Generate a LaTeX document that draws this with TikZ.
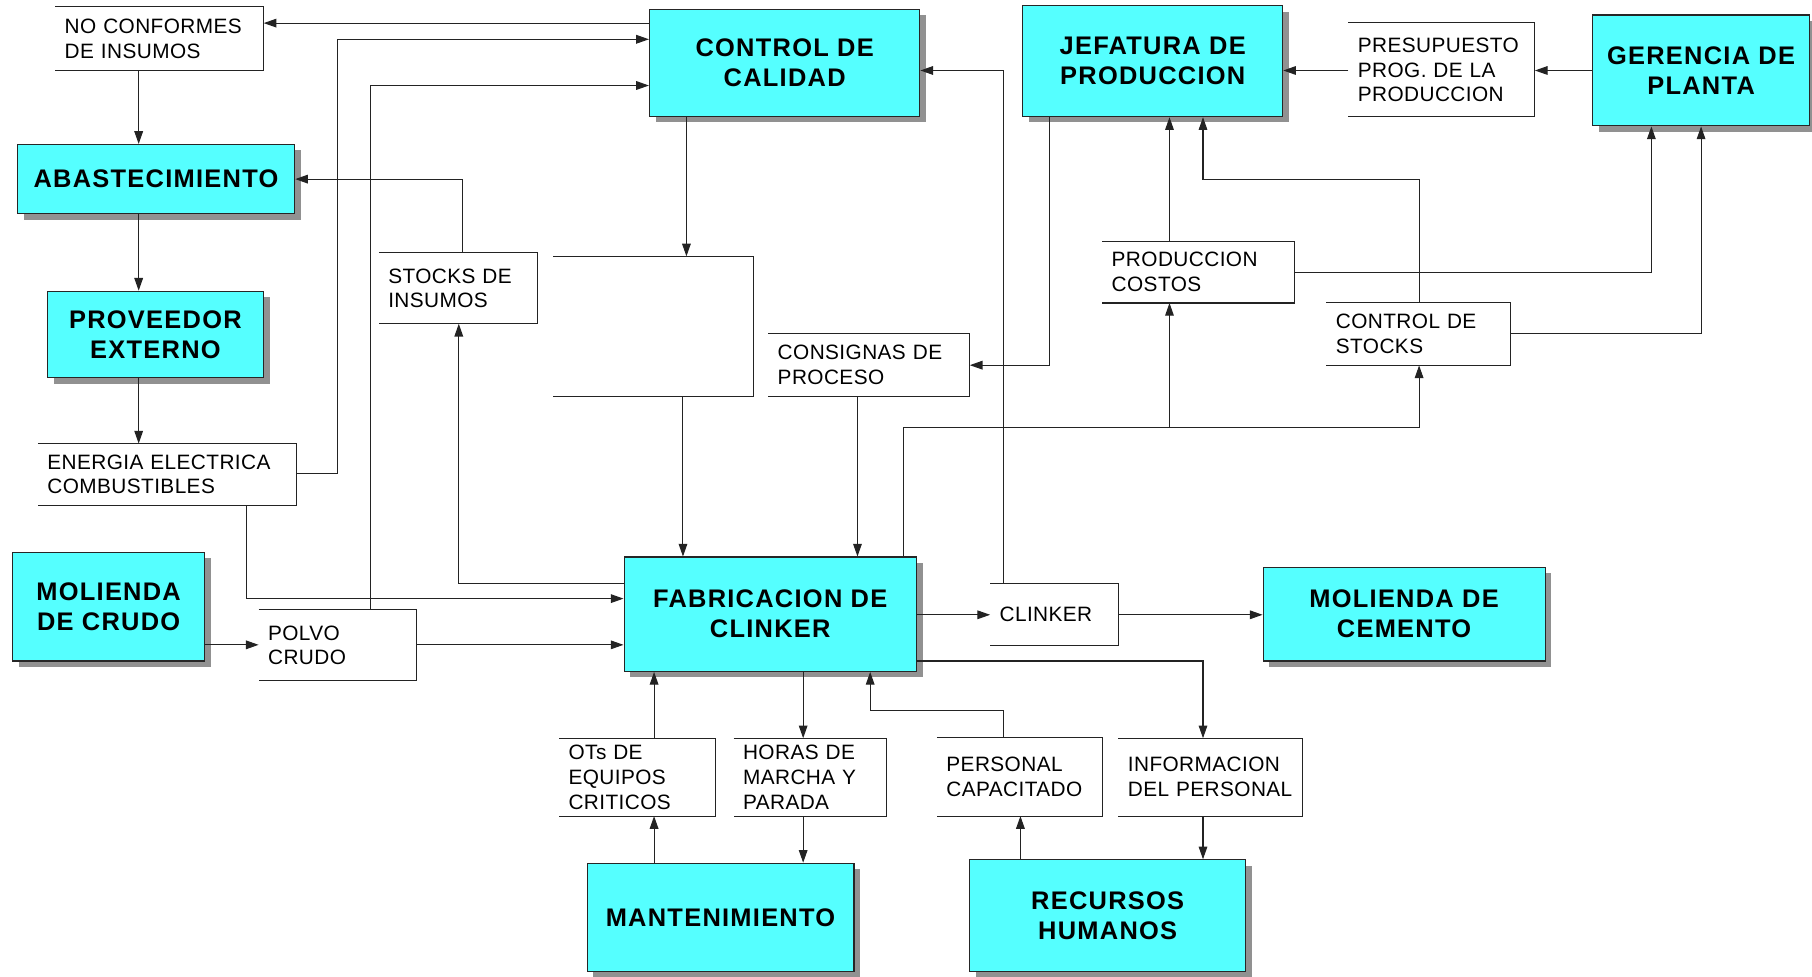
\documentclass[tikz,border=0pt]{standalone}
\usepackage{fontspec}
\setmainfont{Liberation Sans}
\newfontfamily\labfam{Liberation Sans}[LetterSpace=5]
\newfontfamily\txtfam{Liberation Sans}[LetterSpace=2]
\usetikzlibrary{arrows.meta,shadows}
\definecolor{aqua}{RGB}{85,255,255}
\definecolor{shadowgray}{RGB}{145,145,145}
\definecolor{inkline}{RGB}{35,35,35}
\newcommand{\boldlab}{\labfam\bfseries\fontsize{22}{26}\selectfont}
\newcommand{\plainlab}{\txtfam\fontsize{18}{21.5}\selectfont}
% \placebox{style}{x1}{y1}{x2}{y2}{name}{text}: box given by its corners
\newcommand{\placebox}[7]{%
  \pgfmathsetmacro{\qbw}{#4-#2}%
  \pgfmathsetmacro{\qbh}{#5-#3}%
  \pgfmathsetmacro{\qcx}{(#2+#4)/2}%
  \pgfmathsetmacro{\qcy}{(#3+#5)/2}%
  \pgfmathsetmacro{\qtw}{#4-#2-16}%
  \node[#1, minimum width=\qbw pt, minimum height=\qbh pt] (#6) at (\qcx,\qcy) {#7};}
\tikzset{
  unitbox/.style={draw=black!85, line width=0.9pt, fill=aqua, inner sep=2pt,
    align=center, font=\boldlab,
    drop shadow={shadow xshift=5.5pt, shadow yshift=-5pt, fill=shadowgray, draw=none, opacity=1}},
  databox/.style={inner xsep=8pt, inner ysep=0pt, align=left, text width=\qtw pt,
    font=\plainlab, execute at begin node={\hyphenpenalty=10000 }},
  boxedge/.style={draw=inkline, line width=0.9pt},
  arr/.style={draw=inkline, line width=0.9pt, -{Triangle[length=11pt,width=7.5pt]}}
}
\begin{document}
\begin{tikzpicture}[x=1pt, y=-1pt]
\useasboundingbox (0,0) rectangle (1568,845);

% organisational units
\placebox{unitbox}{562}{8}{796}{101}{cc}{CONTROL DE\\CALIDAD}
\placebox{unitbox}{885}{5}{1110}{101}{jp}{JEFATURA DE\\PRODUCCION}
\placebox{unitbox}{1378}{13}{1566}{109}{gp}{GERENCIA DE\\PLANTA}
\placebox{unitbox}{15}{125}{255}{185}{abast}{ABASTECIMIENTO}
\placebox{unitbox}{41}{252}{228}{327}{prov}{PROVEEDOR\\EXTERNO}
\placebox{unitbox}{11}{478}{177}{572}{mcrudo}{MOLIENDA\\DE CRUDO}
\placebox{unitbox}{540}{482}{793}{581}{fc}{FABRICACION DE\\CLINKER}
\placebox{unitbox}{1093}{491}{1337}{572}{mcem}{MOLIENDA DE\\CEMENTO}
\placebox{unitbox}{508}{747}{739}{841}{mant}{MANTENIMIENTO}
\placebox{unitbox}{839}{744}{1078}{841}{rh}{RECURSOS\\HUMANOS}

% information flows (open-sided boxes)
\placebox{databox}{48}{6}{228}{61}{noconf}{NO CONFORMES\\DE INSUMOS}
\placebox{databox}{328}{219}{465}{280}{stocks}{STOCKS DE\\INSUMOS}
\placebox{databox}{479}{222}{652}{343}{blank}{}
\placebox{databox}{954}{209}{1120}{262}{pcost}{PRODUCCION\\COSTOS}
\placebox{databox}{1148}{262}{1307}{316}{cstock}{CONTROL DE\\STOCKS}
\placebox{databox}{1167}{20}{1328}{101}{presu}{PRESUPUESTO\\PROG. DE LA\\PRODUCCION}
\placebox{databox}{665}{289}{839}{343}{consig}{CONSIGNAS DE\\PROCESO}
\placebox{databox}{33}{384}{256}{437}{energ}{ENERGIA ELECTRICA\\COMBUSTIBLES}
\placebox{databox}{224}{528}{360}{589}{polvo}{POLVO\\CRUDO}
\placebox{databox}{857}{505}{968}{558}{clinker}{CLINKER}
\placebox{databox}{484}{639}{619}{706}{ots}{OTs DE\\EQUIPOS\\CRITICOS}
\placebox{databox}{635}{639}{767}{706}{horas}{HORAS DE\\MARCHA Y\\PARADA}
\placebox{databox}{811}{638}{954}{706}{pcap}{PERSONAL\\CAPACITADO}
\placebox{databox}{968}{639}{1127}{706}{info}{INFORMACION\\DEL PERSONAL}

\foreach \n in {noconf,stocks,blank,pcost,cstock,presu,consig,energ,polvo,clinker,ots,horas,pcap,info}
  \draw[boxedge] (\n.north west) -- (\n.north east) -- (\n.south east) -- (\n.south west);

% left column
\draw[arr] (cc.west |- 0,20) -- (noconf.east |- 0,20);
\draw[arr] (noconf.south -| 120,0) -- (abast.north -| 120,0);
\draw[arr] (abast.south -| 120,0) -- (prov.north -| 120,0);
\draw[arr] (prov.south -| 120,0) -- (energ.north -| 120,0);
\draw[arr] (energ.east |- 0,410) -- (292,410) |- (cc.west |- 0,34);
\draw[arr] (polvo.north -| 321,0) |- (cc.west |- 0,74);
\draw[arr] (energ.south -| 213,0) |- (fc.west |- 0,518);
\draw[arr] (mcrudo.east |- 0,558) -- (polvo.west |- 0,558);
\draw[arr] (polvo.east |- 0,558) -- (fc.west |- 0,558);
\draw[arr] (fc.west |- 0,505) -| (stocks.south -| 397,0);
\draw[arr] (stocks.north -| 400,0) |- (abast.east |- 0,155);

% quality control and process set points
\draw[arr] (cc.south -| 594,0) -- (blank.north -| 594,0);
\draw[arr] (blank.south -| 591,0) -- (fc.north -| 591,0);
\draw[arr] (jp.south -| 908,0) |- (consig.east |- 0,316);
\draw[arr] (consig.south -| 742,0) -- (fc.north -| 742,0);
\draw[arr] (clinker.north -| 868,0) |- (cc.east |- 0,61);

% reporting to management
\coordinate (split) at (1012,370);
\draw[arr] (fc.north -| 782,0) |- (1228,370) -- (cstock.south -| 1228,0);
\draw[arr] (split) -- (pcost.south -| 1012,0);
\draw[arr] (pcost.north -| 1012,0) -- (jp.south -| 1012,0);
\draw[arr] (cstock.north -| 1228,0) |- (1041,155) -- (jp.south -| 1041,0);
\draw[arr] (pcost.east |- 0,236) -| (gp.south -| 1429,0);
\draw[arr] (cstock.east |- 0,289) -| (gp.south -| 1472,0);
\draw[arr] (gp.west |- 0,61) -- (presu.east |- 0,61);
\draw[arr] (presu.west |- 0,61) -- (jp.east |- 0,61);

% product flow
\draw[arr] (fc.east |- 0,532) -- (clinker.west |- 0,532);
\draw[arr] (clinker.east |- 0,532) -- (mcem.west |- 0,532);

% personnel and maintenance
\draw[arr] (fc.east |- 0,572) -| (info.north -| 1041,0);
\draw[arr] (info.south -| 1041,0) -- (rh.north -| 1041,0);
\draw[arr] (rh.north -| 883,0) -- (pcap.south -| 883,0);
\draw[arr] (pcap.north -| 868,0) |- (753,615) -- (fc.south -| 753,0);
\draw[arr] (fc.south -| 695,0) -- (horas.north -| 695,0);
\draw[arr] (horas.south -| 695,0) -- (mant.north -| 695,0);
\draw[arr] (mant.north -| 566,0) -- (ots.south -| 566,0);
\draw[arr] (ots.north -| 566,0) -- (fc.south -| 566,0);
\end{tikzpicture}
\end{document}
